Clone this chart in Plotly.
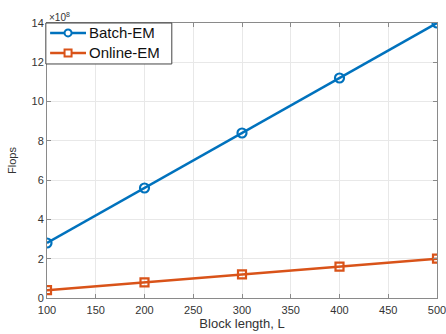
import plotly.graph_objects as go

# Flop counts (in units of 1e8) versus block length
block_length = [100, 200, 300, 400, 500]
batch_em = [2.8, 5.6, 8.4, 11.2, 14.0]
online_em = [0.4, 0.8, 1.2, 1.6, 2.0]

x_ticks = [100, 150, 200, 250, 300, 350, 400, 450, 500]
y_ticks = [0, 2, 4, 6, 8, 10, 12, 14]

series_names = ["Batch-EM", "Online-EM"]
series_colors = ["#0072BD", "#D95319"]
series_symbols = ["circle", "square"]

font = "Liberation Sans, Arial, sans-serif"
text_grey = "#333333"

fig = go.Figure()
for name, values, color, symbol, msize in zip(
    series_names, [batch_em, online_em], series_colors, series_symbols, [9, 8]
):
    fig.add_trace(go.Scatter(
        x=block_length, y=values, name=name, mode="lines+markers",
        line=dict(color=color, width=2.5),
        marker=dict(symbol=symbol + "-open", size=msize, color=color, line=dict(width=2.2)),
        showlegend=False,
    ))

axis_common = dict(
    showline=True, linecolor="#8a8a8a", linewidth=1, mirror="ticks",
    ticks="inside", ticklen=4, tickcolor="#8a8a8a",
    showgrid=True, gridcolor="#e8e8e8", gridwidth=1,
    zeroline=False, automargin=False, ticklabeloverflow="allow",
    tickfont=dict(family=font, size=11, color=text_grey),
)

fig.update_xaxes(
    range=[100, 500], tickvals=x_ticks, ticklabelstandoff=2,
    title=dict(text="Block length, L", font=dict(family=font, size=13, color=text_grey), standoff=3),
    **axis_common,
)
fig.update_yaxes(
    range=[0, 14], tickvals=y_ticks,
    title=dict(text="Flops", font=dict(family=font, size=11, color=text_grey), standoff=12),
    **axis_common,
)

# Shared exponent of the y axis
fig.add_annotation(
    xref="paper", yref="paper", x=0, y=1, xanchor="left", yanchor="bottom",
    text="×10<sup>8</sup>", showarrow=False, yshift=-2,
    font=dict(family=font, size=10, color=text_grey),
)

# Boxed legend in the upper-left corner of the axes
shapes = [dict(
    type="rect", xref="paper", yref="paper",
    x0=-0.003, x1=0.32, y0=0.851, y1=1.0,
    line=dict(color="#444444", width=1), fillcolor="white", layer="above",
)]
annotations = []
row_y = [0.964, 0.891]
for name, color, symbol, ry in zip(series_names, series_colors, series_symbols, row_y):
    shapes.append(dict(
        type="line", xref="paper", yref="paper",
        x0=0.008, x1=0.1, y0=ry, y1=ry,
        line=dict(color=color, width=2.5), layer="above",
    ))
    shapes.append(dict(
        type="circle" if symbol == "circle" else "rect",
        xref="paper", yref="paper", xsizemode="pixel", ysizemode="pixel",
        xanchor=0.054, yanchor=ry, x0=-3.5, x1=3.5, y0=-3.5, y1=3.5,
        line=dict(color=color, width=2), fillcolor="white", layer="above",
    ))
    annotations.append(dict(
        xref="paper", yref="paper", x=0.103, y=ry, xanchor="left", yanchor="middle",
        text=name, showarrow=False,
        font=dict(family=font, size=15, color="#111111"),
    ))

fig.update_layout(
    width=446, height=334,
    margin=dict(l=47, r=9, t=23, b=36),
    paper_bgcolor="white", plot_bgcolor="white",
    shapes=shapes,
)
for a in annotations:
    fig.add_annotation(**a)

fig.write_html("out.html")
